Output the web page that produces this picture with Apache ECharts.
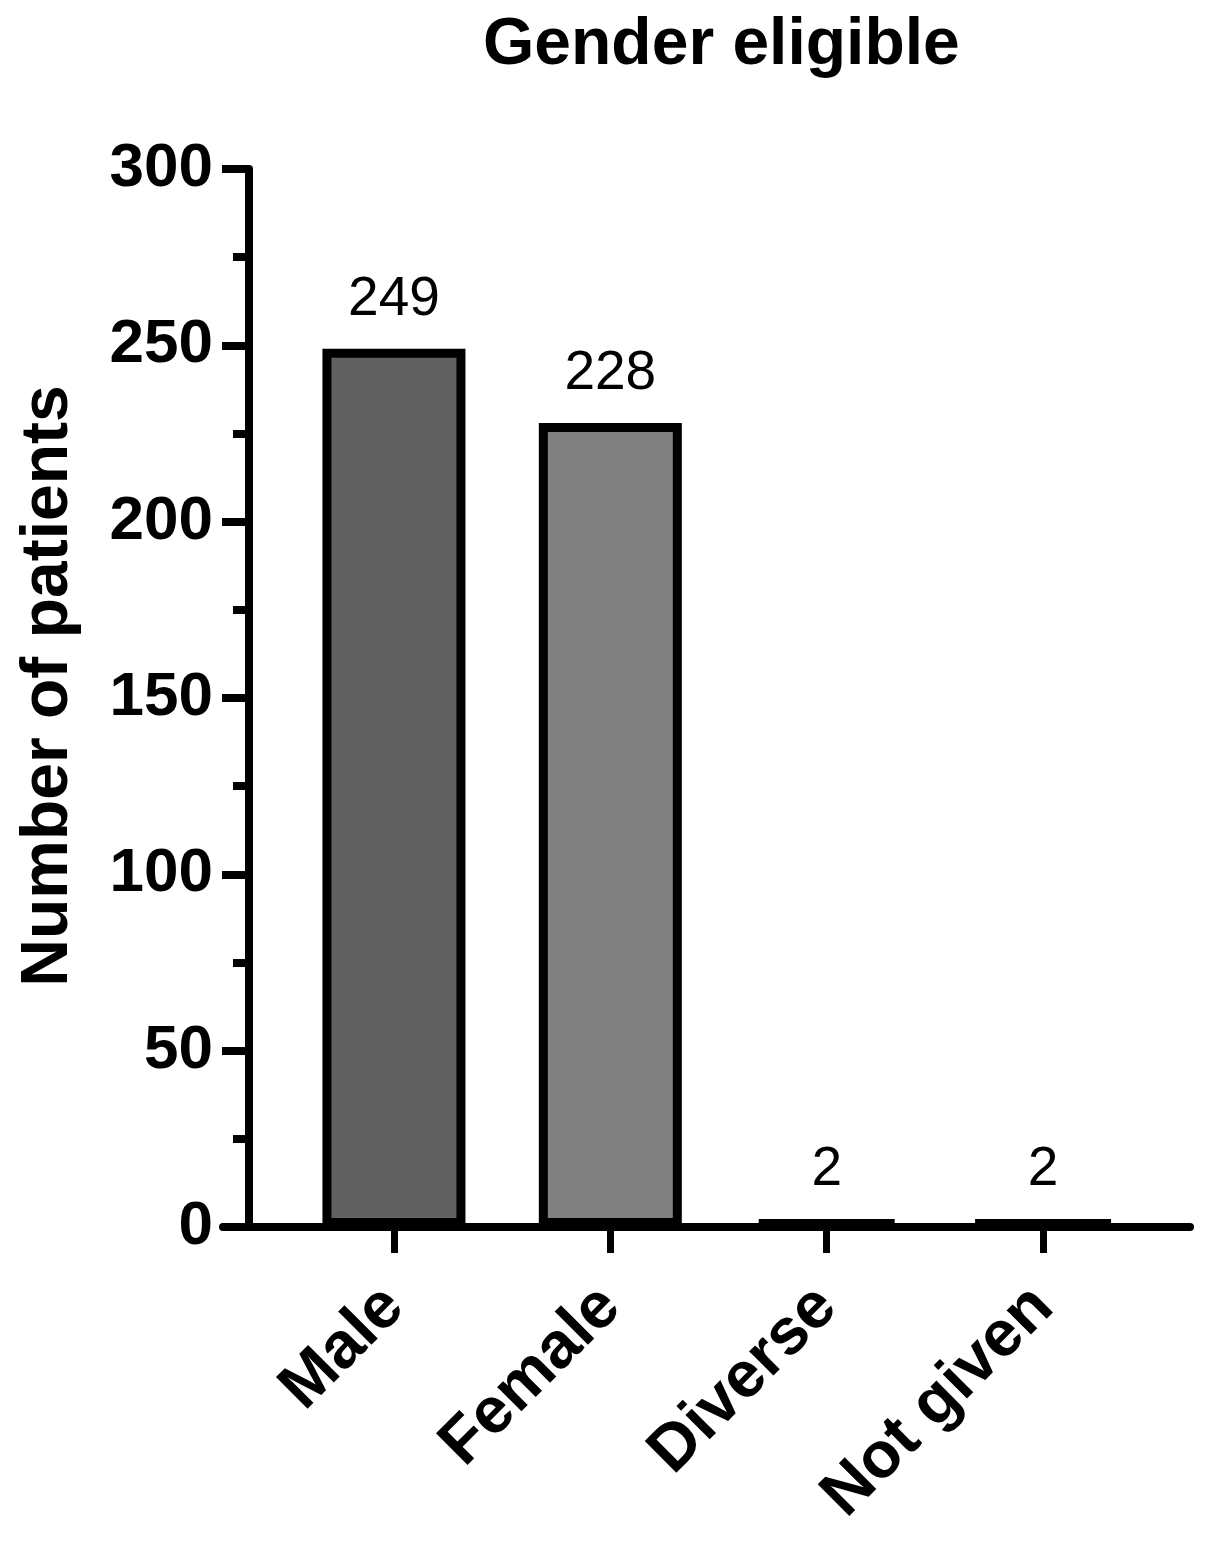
<!DOCTYPE html>
<html>
<head>
<meta charset="utf-8">
<script src="https://cdn.jsdelivr.net/npm/echarts@6/dist/echarts.min.js"></script>
<style>
html, body { margin: 0; padding: 0; background: #fff; }
#main { width: 1212px; height: 1545px; }
</style>
</head>
<body>
<div id="main"></div>
<script>
var categories = ['Male', 'Female', 'Diverse', 'Not given'];
var patients = [249, 228, 2, 2];
var barColors = ['#616161', '#808080', '#808080', '#808080'];
var yTicks = [0, 50, 100, 150, 200, 250, 300];

var font = '"Liberation Sans", Arial, sans-serif';
var myChart = echarts.init(document.getElementById('main'));

var barData = [];
for (var i = 0; i < categories.length; i++) {
    barData.push({
        value: [i, patients[i]],
        itemStyle: { color: barColors[i] }
    });
}

var option = {
    backgroundColor: '#fff',
    animation: false,
    title: {
        text: 'Gender eligible',
        left: 483,
        top: 13,
        padding: 0,
        textStyle: {
            fontFamily: font,
            fontSize: 66,
            fontWeight: 'bold',
            color: '#000'
        }
    },
    grid: {
        left: 223,
        top: 169,
        width: 967,
        height: 1058,
        outerBoundsMode: 'none'
    },
    xAxis: {
        type: 'value',
        min: -0.79,
        max: 3.679,
        splitLine: { show: false },
        axisLine: {
            show: true,
            onZero: false,
            lineStyle: { color: '#000', width: 8 }
        },
        axisTick: {
            show: true,
            customValues: [0, 1, 2, 3],
            length: 26,
            lineStyle: { color: '#000', width: 7 }
        },
        axisLabel: {
            customValues: [0, 1, 2, 3],
            rotate: 45,
            margin: 70,
            padding: [14, 0, 0, 0],
            fontFamily: font,
            fontSize: 65,
            fontWeight: 'bold',
            color: '#000',
            formatter: function (v) {
                return categories[Math.round(v)];
            }
        }
    },
    yAxis: {
        type: 'value',
        min: 0,
        max: 300,
        interval: 50,
        offset: -26,
        name: 'Number of patients',
        nameLocation: 'middle',
        nameRotate: 90,
        nameGap: 167,
        nameMoveOverlap: false,
        nameTextStyle: {
            fontFamily: font,
            fontSize: 66,
            fontWeight: 'bold',
            color: '#000',
            padding: [0, 0, 0, 24]
        },
        splitLine: { show: false },
        axisLine: {
            show: true,
            onZero: false,
            lineStyle: { color: '#000', width: 8 }
        },
        axisTick: {
            show: true,
            length: 27,
            lineStyle: { color: '#000', width: 8 }
        },
        minorTick: {
            show: true,
            splitNumber: 2,
            length: 16,
            lineStyle: { color: '#000', width: 8 }
        },
        axisLabel: {
            margin: 36,
            fontFamily: font,
            fontSize: 62,
            fontWeight: 'bold',
            color: '#000',
            customValues: yTicks
        }
    },
    series: [{
        type: 'bar',
        data: barData,
        barWidth: 143,
        itemStyle: {
            borderColor: '#000',
            borderWidth: 9
        },
        label: {
            show: true,
            position: 'top',
            distance: 22,
            fontFamily: font,
            fontSize: 55,
            color: '#000',
            formatter: function (p) {
                return p.value[1];
            }
        }
    }]
};

myChart.setOption(option);
</script>
</body>
</html>
